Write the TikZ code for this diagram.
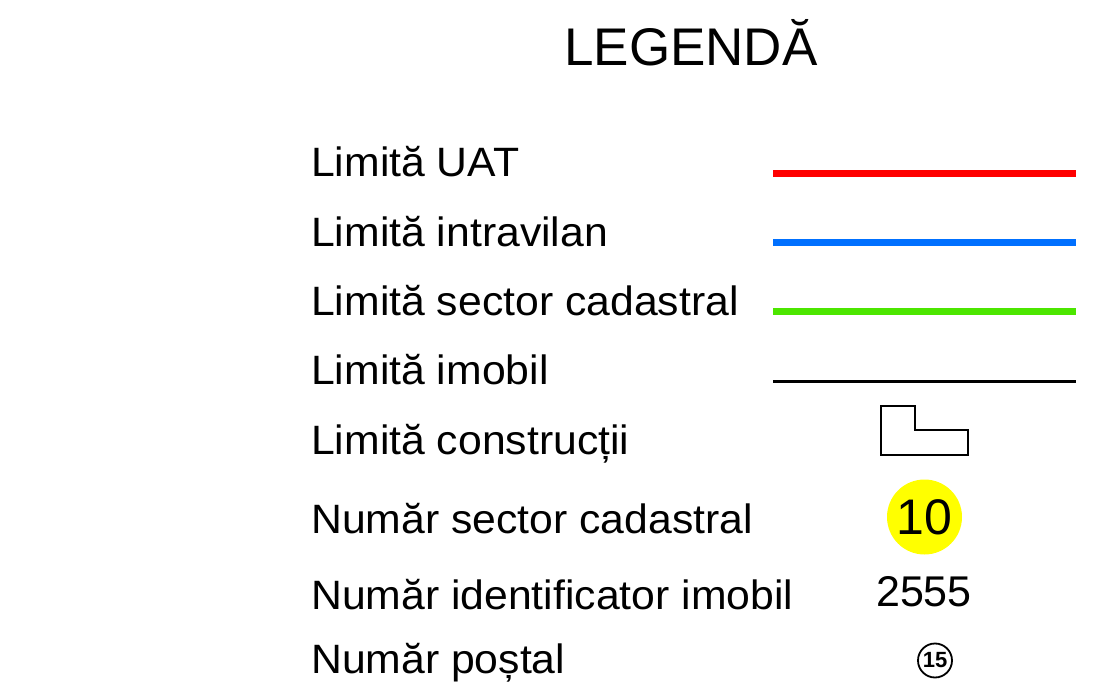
\documentclass[tikz,border=0pt]{standalone}
\usepackage{fontspec}
\setmainfont{Liberation Sans}
\newfontfamily\labelfont[FakeStretch=1.042]{Liberation Sans}
\definecolor{uatred}{RGB}{255,0,0}
\definecolor{intrablue}{RGB}{0,112,255}
\definecolor{sectgreen}{RGB}{76,230,0}
\definecolor{sectyellow}{RGB}{255,255,0}
\tikzset{
  label text/.style={anchor=base west, inner sep=0pt, font=\labelfont\fontsize{41}{41}\selectfont},
  title text/.style={anchor=base west, inner sep=0pt, font=\fontsize{53}{53}\selectfont},
  sample line/.style={line width=7pt, line cap=butt},
  thin sample/.style={line width=3pt, line cap=butt},
  building/.style={draw, line width=1.2pt, line join=miter},
}
\begin{document}
\begin{tikzpicture}[x=1pt,y=-1pt]
\useasboundingbox (0,0) rectangle (1112,698);
\node[title text] (title) at (564,66) {LEGENDĂ};

\node[label text] (l1) at (311,177) {Limită UAT};
\node[label text] (l2) at (311,246) {Limită intravilan};
\node[label text] (l3) at (311,315) {Limită sector cadastral};
\node[label text] (l4) at (311,384) {Limită imobil};
\node[label text] (l5) at (311,454) {Limită construcții};
\node[label text] (l6) at (311,533) {Număr sector cadastral};
\node[label text] (l7) at (311,609) {Număr identificator imobil};
\node[label text] (l8) at (311,673) {Număr poștal};

\coordinate (r1) at (773,173.5); \coordinate (r2) at (1076,173.5);
\coordinate (b1) at (773,242); \coordinate (b2) at (1076,242);
\coordinate (g1) at (773,311); \coordinate (g2) at (1076,311);
\coordinate (k1) at (773,381.5); \coordinate (k2) at (1076,381.5);
\draw[sample line, uatred] (r1) -- (r2);
\draw[sample line, intrablue] (b1) -- (b2);
\draw[sample line, sectgreen] (g1) -- (g2);
\draw[thin sample, black] (k1) -- (k2);

\draw[building] (881,406) -- (915,406) -- (915,430) -- (968,430) -- (968,455) -- (881,455) -- cycle;

\node[circle, fill=sectyellow, minimum size=75pt, inner sep=0pt,
      font=\fontsize{50}{50}\selectfont] (sect) at (924.5,517) {10};
\node[anchor=base, inner sep=0pt, font=\fontsize{43}{43}\selectfont] (imob) at (924,606) {2555};
\node[circle, draw, line width=1.8pt, minimum size=34pt, inner sep=0pt,
      font=\fontsize{22}{22}\selectfont\bfseries] (post) at (935,660.5) {15};
\end{tikzpicture}
\end{document}
